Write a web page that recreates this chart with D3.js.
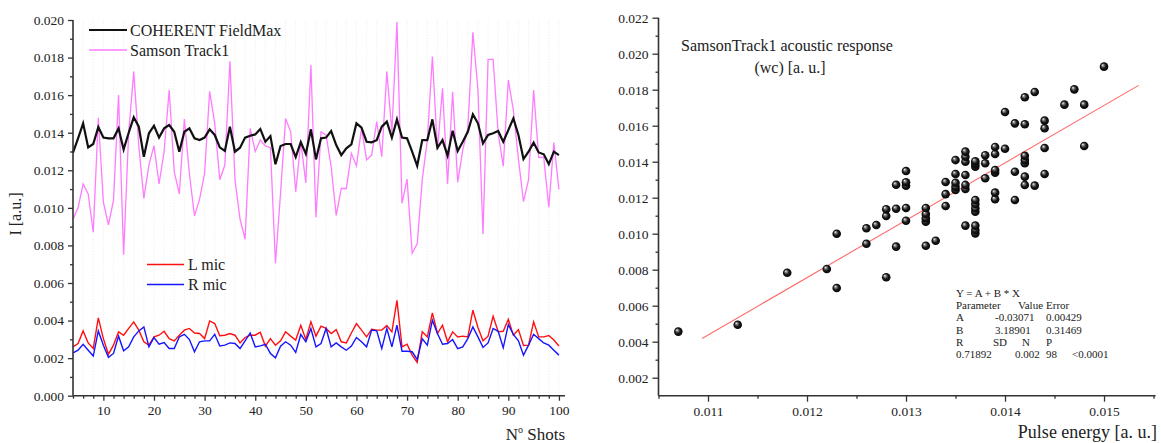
<!DOCTYPE html>
<html><head><meta charset="utf-8">
<script src="https://cdn.jsdelivr.net/npm/d3@7"></script>
<style>
html,body{margin:0;padding:0;background:#fff;}
svg text{font-family:"Liberation Serif","Times New Roman",serif !important;fill:#222;}
</style></head>
<body><svg id="c" width="1161" height="443"></svg>
<script>
// ---------- Left chart data (shot number 4..100) ----------
const shots = d3.range(4, 101);
const fieldMax = [0.01294,0.0137,0.0145,0.01322,0.0134,0.0143,0.01374,0.0137,0.0137,0.01423,0.01311,0.0140,0.01482,0.01432,0.01272,0.01397,0.01437,0.01374,0.01423,0.01441,0.01405,0.01299,0.01405,0.01423,0.0137,0.01361,0.01374,0.01418,0.01388,0.01322,0.01303,0.01432,0.01299,0.0132,0.01374,0.01384,0.01391,0.0142,0.01352,0.01382,0.01232,0.01329,0.0134,0.0134,0.0127,0.0135,0.01287,0.01418,0.01258,0.0137,0.01374,0.01409,0.01334,0.01281,0.01317,0.01338,0.0145,0.01427,0.01352,0.01349,0.0136,0.01432,0.01459,0.01374,0.01471,0.01374,0.0137,0.01299,0.01224,0.01361,0.01361,0.01471,0.0132,0.01361,0.01278,0.01411,0.01303,0.01352,0.01405,0.01498,0.0145,0.01343,0.01388,0.01397,0.01409,0.01352,0.01414,0.01476,0.01388,0.0126,0.01299,0.01347,0.01295,0.01285,0.01233,0.01299,0.01281];
const samson = [0.0094,0.0100,0.01127,0.01074,0.0087,0.0148,0.0103,0.0091,0.0104,0.0160,0.0075,0.0140,0.01725,0.0133,0.0105,0.01228,0.01331,0.01127,0.0130,0.01627,0.01193,0.01074,0.01473,0.0118,0.00957,0.01045,0.01184,0.0162,0.0145,0.0115,0.01228,0.0178,0.0115,0.0094,0.00833,0.01423,0.0130,0.01361,0.0133,0.0132,0.00705,0.01077,0.01476,0.01405,0.01086,0.01352,0.01133,0.0176,0.0095,0.01405,0.01388,0.0122,0.0096,0.01103,0.01103,0.0129,0.01224,0.01423,0.01255,0.01281,0.01459,0.01272,0.01725,0.01405,0.0199,0.01024,0.01153,0.00758,0.00808,0.0115,0.0136,0.01805,0.01308,0.01636,0.01127,0.01618,0.01136,0.01308,0.01423,0.01934,0.01627,0.0086,0.0179,0.0179,0.01397,0.01222,0.0168,0.0152,0.0126,0.01033,0.0115,0.01627,0.01269,0.01269,0.01003,0.01347,0.01098];
const lMic = [0.0026,0.00278,0.00345,0.00281,0.00251,0.00414,0.00304,0.00221,0.00269,0.0034,0.00322,0.00358,0.00393,0.00349,0.00287,0.00269,0.00313,0.00322,0.00343,0.00304,0.00292,0.00322,0.00349,0.00358,0.00334,0.00331,0.00304,0.00398,0.00384,0.00319,0.00322,0.00331,0.00322,0.00281,0.0031,0.00322,0.00322,0.00338,0.00264,0.00304,0.00269,0.00292,0.0034,0.00317,0.00296,0.00375,0.00299,0.00393,0.00317,0.0037,0.00358,0.00331,0.00352,0.00287,0.00281,0.00334,0.00384,0.00349,0.00313,0.00354,0.00349,0.00349,0.00373,0.0034,0.00508,0.0026,0.00274,0.00216,0.00177,0.0034,0.00313,0.00441,0.00331,0.00375,0.00287,0.0034,0.00313,0.00317,0.00313,0.00455,0.00363,0.00292,0.00317,0.00423,0.0034,0.00343,0.00407,0.00322,0.00352,0.00267,0.00269,0.00393,0.00313,0.00313,0.0032,0.00296,0.00265];
const rMic = [0.00228,0.00242,0.00274,0.00242,0.00211,0.00345,0.00269,0.00204,0.00225,0.00317,0.00239,0.0026,0.00313,0.00345,0.00366,0.0026,0.0031,0.00274,0.00283,0.00251,0.00251,0.00313,0.00327,0.00299,0.00234,0.00287,0.00292,0.00292,0.00327,0.00265,0.00269,0.00281,0.00278,0.00251,0.00292,0.00334,0.0026,0.00265,0.00274,0.00225,0.00202,0.00264,0.00287,0.00269,0.0023,0.00326,0.00287,0.00358,0.0026,0.00278,0.00358,0.0026,0.00281,0.0026,0.00242,0.00264,0.0031,0.00287,0.0026,0.00349,0.00345,0.00251,0.00358,0.0026,0.00375,0.00237,0.00237,0.00234,0.00193,0.00303,0.00269,0.00402,0.00331,0.00274,0.00278,0.00299,0.00251,0.0026,0.00304,0.00366,0.00313,0.00257,0.00281,0.00358,0.00343,0.00255,0.00379,0.00326,0.00292,0.00216,0.00269,0.00327,0.00304,0.00281,0.00269,0.00242,0.00216];
const leftYTicks = [0,0.002,0.004,0.006,0.008,0.010,0.012,0.014,0.016,0.018,0.020];
const leftXTicks = [10,20,30,40,50,60,70,80,90,100];

// ---------- Right chart data ----------
const pulseEnergy = [0.0107,0.0113,0.0118,0.0122,0.0123,0.0123,0.0126,0.0126,0.0127,0.0128,0.0128,0.0128,0.0129,0.0129,0.0129,0.013,0.013,0.013,0.013,0.013,0.0132,0.0132,0.0132,0.0132,0.0132,0.0133,0.0134,0.0134,0.0134,0.0135,0.0135,0.0135,0.0135,0.0135,0.0136,0.0136,0.0136,0.0136,0.0136,0.0136,0.0136,0.0137,0.0137,0.0137,0.0137,0.0137,0.0137,0.0137,0.0137,0.0137,0.0137,0.0138,0.0138,0.0138,0.0139,0.0139,0.0139,0.0139,0.0139,0.0139,0.014,0.014,0.0141,0.0141,0.0141,0.0142,0.0142,0.0142,0.0142,0.0142,0.0142,0.0142,0.0143,0.0143,0.0144,0.0144,0.0144,0.0144,0.0146,0.0147,0.0148,0.0148,0.015];
const acoustic = [0.00456,0.00494,0.00783,0.00804,0.00698,0.0100,0.0103,0.00944,0.01048,0.00758,0.01098,0.01136,0.00928,0.01139,0.01272,0.01072,0.01143,0.01266,0.01286,0.01348,0.00933,0.01067,0.01086,0.01109,0.01143,0.00961,0.01154,0.0122,0.01287,0.01243,0.01261,0.01283,0.01332,0.01409,0.01045,0.01248,0.01271,0.01326,0.014,0.01428,0.01456,0.01002,0.01021,0.01045,0.01122,0.01141,0.01165,0.01187,0.01372,0.01387,0.01402,0.01308,0.01391,0.01436,0.01191,0.01228,0.01339,0.01354,0.01443,0.01482,0.01472,0.01676,0.01187,0.01344,0.01613,0.01271,0.01317,0.01391,0.01409,0.01433,0.01608,0.01758,0.01267,0.01787,0.01332,0.01476,0.01586,0.01628,0.01717,0.01802,0.01487,0.01717,0.01928];
const fitA = -0.03071, fitB = 3.18901;
const fitRange = [0.01094, 0.01535];
const rightYTicks = [0.002,0.004,0.006,0.008,0.010,0.012,0.014,0.016,0.018,0.020,0.022];
const rightXTicks = [0.011,0.012,0.013,0.014,0.015];
const statsRows = [
  ["Y = A + B * X"],
  ["Parameter", "", "Value", "Error"],
  ["A", "-0.03071", "", "0.00429"],
  ["B", "3.18901", "", "0.31469"],
  ["R", "SD", "N", "P"],
  ["0.71892", "0.002", "98", "<0.0001"]
];

const svg = d3.select("#c");
const axisCol = "#333";
const fmt3 = d3.format(".3f");
const serif = "'Liberation Serif','Times New Roman',serif";

// ===== LEFT CHART =====
const xL = d3.scaleLinear().domain([4, 101.2]).range([73, 565]);
const yL = d3.scaleLinear().domain([0, 0.020]).range([395.7, 20]);
const gL = svg.append("g");

gL.append("g").selectAll("line").data(d3.range(6, 101, 2)).join("line")
  .attr("x1", d => xL(d)).attr("x2", d => xL(d)).attr("y1", yL(0)).attr("y2", yL(0.020))
  .attr("stroke", "#e6e6e6").attr("stroke-width", 0.8).attr("stroke-dasharray", "1,2");

const lineL = (arr) => d3.line().x((d, i) => xL(shots[i])).y(d => yL(d))(arr);
gL.append("path").attr("d", lineL(samson)).attr("fill", "none").attr("stroke", "#ff7bff").attr("stroke-width", 1.3);
gL.append("path").attr("d", lineL(fieldMax)).attr("fill", "none").attr("stroke", "#111").attr("stroke-width", 2.2);
gL.append("path").attr("d", lineL(lMic)).attr("fill", "none").attr("stroke", "#ff1010").attr("stroke-width", 1.4);
gL.append("path").attr("d", lineL(rMic)).attr("fill", "none").attr("stroke", "#1515ff").attr("stroke-width", 1.4);

const axL = gL.append("g").attr("transform", `translate(${xL(4)},0)`)
  .call(d3.axisLeft(yL).tickValues(leftYTicks).tickFormat(fmt3).tickSize(5).tickPadding(4));
const axL2 = gL.append("g").attr("transform", `translate(${xL(4)},0)`)
  .call(d3.axisLeft(yL).tickValues(d3.range(0.001, 0.020, 0.002)).tickFormat("").tickSize(3));
const axB = gL.append("g").attr("transform", `translate(0,${yL(0)})`)
  .call(d3.axisBottom(xL).tickValues(leftXTicks).tickSize(5).tickPadding(5));
const axB2 = gL.append("g").attr("transform", `translate(0,${yL(0)})`)
  .call(d3.axisBottom(xL).tickValues(d3.range(4, 101, 2).filter(v => v % 10 !== 0)).tickFormat("").tickSize(3));
[axL2, axB2].forEach(a => a.select(".domain").remove());
axL.select(".domain").attr("d", `M0,${yL(0.020)}V${yL(0)}`);
axB.select(".domain").attr("d", `M${xL(4)},0H${xL(101.2)}`);

// legend
const legTop = [["COHERENT FieldMax", "#111", 2.2, 30], ["Samson Track1", "#ff7bff", 1.3, 50]];
legTop.forEach(([t, c, w, y]) => {
  gL.append("line").attr("x1", 89).attr("x2", 127).attr("y1", y).attr("y2", y).attr("stroke", c).attr("stroke-width", w);
  gL.append("text").attr("x", 130).attr("y", y + 5.5).attr("font-size", 16).text(t);
});
const legBot = [["L mic", "#ff1010", 264.5], ["R mic", "#1515ff", 284.5]];
legBot.forEach(([t, c, y]) => {
  gL.append("line").attr("x1", 147).attr("x2", 184).attr("y1", y).attr("y2", y).attr("stroke", c).attr("stroke-width", 1.4);
  gL.append("text").attr("x", 188).attr("y", y + 5.5).attr("font-size", 16).text(t);
});
gL.append("text").attr("transform", "translate(21,214) rotate(-90)").attr("text-anchor", "middle").attr("font-size", 16).text("I [a.u.]");
const nt = gL.append("text").attr("x", 565).attr("y", 440).attr("text-anchor", "end").attr("font-size", 17);
nt.append("tspan").text("N");
nt.append("tspan").attr("font-size", 10).attr("dy", -7).text("o");
nt.append("tspan").attr("dy", 7).text(" Shots");

// ===== RIGHT CHART =====
const xR = d3.scaleLinear().domain([0.0105, 0.01552]).range([658.5, 1155.5]);
const yR = d3.scaleLinear().domain([0.001, 0.022]).range([395.7, 17.7]);
const gR = svg.append("g");
const defs = svg.append("defs");
const rg = defs.append("radialGradient").attr("id", "ball").attr("cx", "50%").attr("cy", "50%").attr("r", "55%").attr("fx", "32%").attr("fy", "30%");
rg.append("stop").attr("offset", "0%").attr("stop-color", "#ffffff");
rg.append("stop").attr("offset", "22%").attr("stop-color", "#8a8a8a");
rg.append("stop").attr("offset", "55%").attr("stop-color", "#1a1a1a");
rg.append("stop").attr("offset", "100%").attr("stop-color", "#000");

gR.append("line")
  .attr("x1", xR(fitRange[0])).attr("y1", yR(fitA + fitB * fitRange[0]))
  .attr("x2", xR(fitRange[1])).attr("y2", yR(fitA + fitB * fitRange[1]))
  .attr("stroke", "#ff6a6a").attr("stroke-width", 1.1);

gR.append("g").selectAll("circle").data(pulseEnergy).join("circle")
  .attr("cx", d => xR(d)).attr("cy", (d, i) => yR(acoustic[i])).attr("r", 4.3)
  .attr("fill", "url(#ball)");

const axRL = gR.append("g").attr("transform", `translate(${xR(0.0105)},0)`)
  .call(d3.axisLeft(yR).tickValues(rightYTicks).tickFormat(fmt3).tickSize(6).tickPadding(4));
const axRL2 = gR.append("g").attr("transform", `translate(${xR(0.0105)},0)`)
  .call(d3.axisLeft(yR).tickValues(d3.range(0.003, 0.022, 0.002)).tickFormat("").tickSize(3));
const axRB = gR.append("g").attr("transform", `translate(0,${yR(0.001)})`)
  .call(d3.axisBottom(xR).tickValues(rightXTicks).tickFormat(fmt3).tickSize(6).tickPadding(5));
const axRB2 = gR.append("g").attr("transform", `translate(0,${yR(0.001)})`)
  .call(d3.axisBottom(xR).tickValues([0.0105,0.0115,0.0125,0.0135,0.0145,0.0155]).tickFormat("").tickSize(3));
[axRL2, axRB2].forEach(a => a.select(".domain").remove());
axRL.select(".domain").attr("d", `M0,${yR(0.022)}V${yR(0.001)}`);
axRB.select(".domain").attr("d", `M${xR(0.0105)},0H${xR(0.01552)}`);

svg.selectAll(".domain").attr("stroke", axisCol).attr("stroke-width", 1.6);
svg.selectAll(".tick line").attr("stroke", axisCol).attr("stroke-width", 1.3);
svg.selectAll(".tick text").attr("font-size", 13.5).style("font-family", serif).attr("fill", "#222");
svg.selectAll("g[font-family]").attr("font-family", serif);

gR.append("text").attr("x", 787).attr("y", 51).attr("text-anchor", "middle").attr("font-size", 16).text("SamsonTrack1 acoustic response");
gR.append("text").attr("x", 790).attr("y", 73).attr("text-anchor", "middle").attr("font-size", 16).text("(wc) [a. u.]");
gR.append("text").attr("x", 1157).attr("y", 438).attr("text-anchor", "end").attr("font-size", 18).text("Pulse energy [a. u.]");

// stats box
const colX = [[956], [956, 0, 1018, 1046], [956, 995, 0, 1046], [956, 995, 0, 1046], [956, 993, 1022, 1046], [956, 1015, 1046, 1072]];
statsRows.forEach((row, r) => {
  row.forEach((t, c) => {
    if (!t) return;
    gR.append("text").attr("x", colX[r][c]).attr("y", 297 + r * 12.2).attr("font-size", 11).text(t);
  });
});
</script></body></html>
